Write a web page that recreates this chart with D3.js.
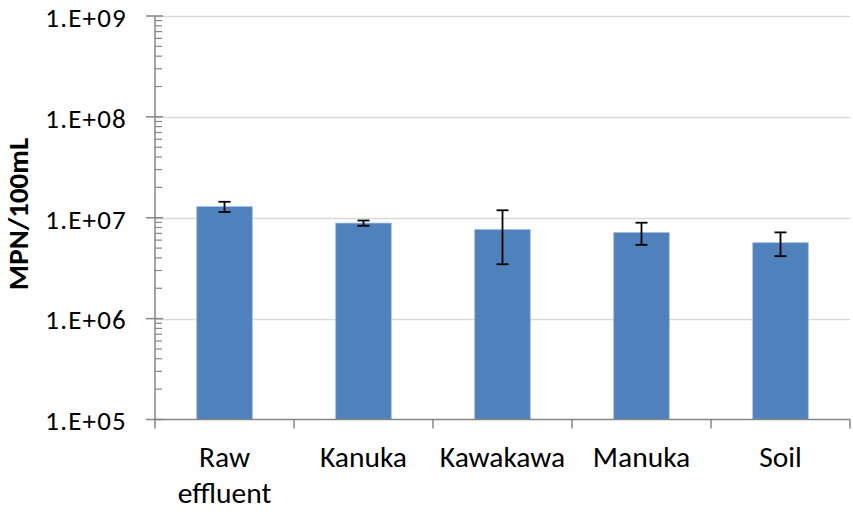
<!DOCTYPE html>
<html>
<head>
<meta charset="utf-8">
<script src="https://cdn.jsdelivr.net/npm/d3@7"></script>
<style>
  html, body { margin: 0; padding: 0; background: #fff; }
  svg { display: block; font-family: Carlito, Calibri, Lato, "Open Sans", sans-serif; }
</style>
</head>
<body>
<svg id="chart" width="853" height="512"></svg>
<script>
// Sample sites and mean counts (MPN/100mL) with their standard deviations
const categories = ["Raw effluent", "Kanuka", "Kawakawa", "Manuka", "Soil"];
const means = [1.29e7, 8.86e6, 7.66e6, 7.16e6, 5.66e6];
const errors = [1.5e6, 5.3e5, 4.2e6, 1.77e6, 1.5e6];
const yTicks = [1e5, 1e6, 1e7, 1e8, 1e9];
const yTickLabels = ["1.E+05", "1.E+06", "1.E+07", "1.E+08", "1.E+09"];
const yTitle = "MPN/100mL";

const svg = d3.select("#chart");
const margin = { left: 155, right: 3, top: 16, bottom: 92.5 };
const W = 853, H = 512;

const x = d3.scaleBand()
  .domain(categories)
  .range([margin.left, W - margin.right])
  .paddingInner(0.6)
  .paddingOuter(0.3);

const y = d3.scaleLog()
  .domain([1e5, 1e9])
  .range([H - margin.bottom, margin.top]);

const axisColor = "#868686";

// horizontal gridlines at each decade
svg.append("g")
  .selectAll("line")
  .data(yTicks.slice(1))
  .join("line")
  .attr("x1", margin.left)
  .attr("x2", W - margin.right)
  .attr("y1", d => Math.round(y(d)) + 0.5)
  .attr("y2", d => Math.round(y(d)) + 0.5)
  .attr("stroke", "#d9d9d9")
  .attr("stroke-width", 1.5);

// bars
svg.append("g")
  .selectAll("rect")
  .data(categories)
  .join("rect")
  .attr("x", d => x(d))
  .attr("width", x.bandwidth())
  .attr("y", (d, i) => y(means[i]))
  .attr("height", (d, i) => y(1e5) - y(means[i]))
  .attr("fill", "#4f81bd")
  .attr("stroke", "#a7bfde")
  .attr("stroke-width", 0.8);

// error bars
const eb = svg.append("g")
  .attr("stroke", "#000")
  .attr("stroke-width", 1.8);
categories.forEach((c, i) => {
  const cx = x(c) + x.bandwidth() / 2;
  const top = y(means[i] + errors[i]);
  const bot = y(means[i] - errors[i]);
  eb.append("line").attr("x1", cx).attr("x2", cx).attr("y1", top).attr("y2", bot);
  eb.append("line").attr("x1", cx - 6).attr("x2", cx + 6).attr("y1", top).attr("y2", top);
  eb.append("line").attr("x1", cx - 6).attr("x2", cx + 6).attr("y1", bot).attr("y2", bot);
});

// y axis: line, minor ticks inside, major ticks crossing
const yAxis = svg.append("g");
yAxis.append("line")
  .attr("x1", margin.left).attr("x2", margin.left)
  .attr("y1", y(1e9)).attr("y2", y(1e5) + 1)
  .attr("stroke", axisColor).attr("stroke-width", 1.5);

const minor = [];
for (let e = 5; e < 9; e++) for (let m = 2; m <= 9; m++) minor.push(m * Math.pow(10, e));
yAxis.selectAll(".minor")
  .data(minor)
  .join("line")
  .attr("class", "minor")
  .attr("x1", margin.left).attr("x2", margin.left + 7)
  .attr("y1", d => y(d)).attr("y2", d => y(d))
  .attr("stroke", axisColor).attr("stroke-width", 1.2);

yAxis.selectAll(".major")
  .data(yTicks)
  .join("line")
  .attr("class", "major")
  .attr("x1", margin.left - 9).attr("x2", margin.left + 8)
  .attr("y1", d => y(d)).attr("y2", d => y(d))
  .attr("stroke", axisColor).attr("stroke-width", 1.5);

yAxis.selectAll("text")
  .data(yTicks)
  .join("text")
  .attr("x", 127)
  .attr("y", d => y(d) + 10.8)
  .attr("text-anchor", "end")
  .attr("font-size", 27)
  .attr("letter-spacing", 1.2)
  .attr("fill", "#000")
  .text((d, i) => yTickLabels[i]);

// x axis line with boundary ticks
const xAxis = svg.append("g");
const baseY = y(1e5);
xAxis.append("line")
  .attr("x1", margin.left).attr("x2", W - margin.right)
  .attr("y1", baseY).attr("y2", baseY)
  .attr("stroke", axisColor).attr("stroke-width", 1.5);
const step = x.step();
const bounds = d3.range(categories.length + 1).map(i => margin.left + i * step);
xAxis.selectAll(".bt")
  .data(bounds)
  .join("line")
  .attr("class", "bt")
  .attr("x1", d => d).attr("x2", d => d)
  .attr("y1", baseY).attr("y2", baseY + 9)
  .attr("stroke", axisColor).attr("stroke-width", 1.5);

// category labels (wrapped on spaces)
xAxis.selectAll(".cl")
  .data(categories)
  .join("text")
  .attr("class", "cl")
  .attr("text-anchor", "middle")
  .attr("font-size", 29.5)
  .attr("fill", "#000")
  .each(function(d) {
    const t = d3.select(this);
    const cx = x(d) + x.bandwidth() / 2;
    d.split(" ").forEach((w, k) => {
      t.append("tspan").attr("x", cx).attr("y", 467 + k * 36).text(w);
    });
  });

// y-axis title
svg.append("text")
  .attr("transform", `translate(28, 214) rotate(-90)`)
  .attr("text-anchor", "middle")
  .attr("font-size", 29)
  .attr("font-weight", "bold")
  .attr("fill", "#000")
  .text(yTitle);
</script>
</body>
</html>
